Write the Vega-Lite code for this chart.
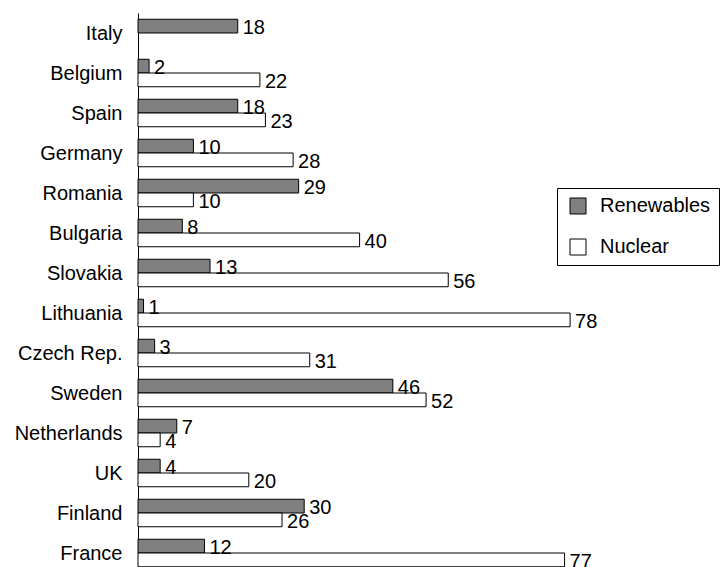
{
  "$schema": "https://vega.github.io/schema/vega-lite/v6.json",
  "autosize": {"type": "none"},
  "padding": {"left": 138, "top": 13, "right": 31, "bottom": 0},
  "width": 554,
  "height": 554,
  "background": "white",
  "config": {
    "view": {"stroke": null},
    "font": "Liberation Sans",
    "text": {"font": "Liberation Sans"}
  },
  "data": {
    "values": [
      {"country": "Italy", "source": "Renewables", "value": 18},
      {"country": "Belgium", "source": "Renewables", "value": 2},
      {"country": "Belgium", "source": "Nuclear", "value": 22},
      {"country": "Spain", "source": "Renewables", "value": 18},
      {"country": "Spain", "source": "Nuclear", "value": 23},
      {"country": "Germany", "source": "Renewables", "value": 10},
      {"country": "Germany", "source": "Nuclear", "value": 28},
      {"country": "Romania", "source": "Renewables", "value": 29},
      {"country": "Romania", "source": "Nuclear", "value": 10},
      {"country": "Bulgaria", "source": "Renewables", "value": 8},
      {"country": "Bulgaria", "source": "Nuclear", "value": 40},
      {"country": "Slovakia", "source": "Renewables", "value": 13},
      {"country": "Slovakia", "source": "Nuclear", "value": 56},
      {"country": "Lithuania", "source": "Renewables", "value": 1},
      {"country": "Lithuania", "source": "Nuclear", "value": 78},
      {"country": "Czech Rep.", "source": "Renewables", "value": 3},
      {"country": "Czech Rep.", "source": "Nuclear", "value": 31},
      {"country": "Sweden", "source": "Renewables", "value": 46},
      {"country": "Sweden", "source": "Nuclear", "value": 52},
      {"country": "Netherlands", "source": "Renewables", "value": 7},
      {"country": "Netherlands", "source": "Nuclear", "value": 4},
      {"country": "UK", "source": "Renewables", "value": 4},
      {"country": "UK", "source": "Nuclear", "value": 20},
      {"country": "Finland", "source": "Renewables", "value": 30},
      {"country": "Finland", "source": "Nuclear", "value": 26},
      {"country": "France", "source": "Renewables", "value": 12},
      {"country": "France", "source": "Nuclear", "value": 77}
    ]
  },
  "encoding": {
    "y": {
      "field": "country",
      "type": "nominal",
      "sort": null,
      "scale": {"range": [0, 560], "paddingInner": 0.3125, "paddingOuter": 0.15625},
      "axis": {
        "title": null,
        "ticks": false,
        "domainColor": "black",
        "domainWidth": 1,
        "labelPadding": 16,
        "labelFontSize": 20,
        "labelColor": "black",
        "labelFont": "Liberation Sans",
        "labelOffset": 1,
        "grid": false
      }
    },
    "yOffset": {
      "field": "source",
      "type": "nominal",
      "sort": ["Renewables", "Nuclear"],
      "scale": {"domain": ["Renewables", "Nuclear"], "paddingInner": 0, "paddingOuter": 0}
    },
    "x": {
      "field": "value",
      "type": "quantitative",
      "scale": {"domain": [0, 100], "nice": false},
      "axis": null
    }
  },
  "layer": [
    {
      "mark": {"type": "bar", "stroke": "black", "strokeWidth": 1},
      "encoding": {
        "fill": {
          "field": "source",
          "type": "nominal",
          "scale": {"domain": ["Renewables", "Nuclear"], "range": ["#808080", "#ffffff"]},
          "legend": {
            "title": null,
            "orient": "none",
            "legendX": 419,
            "legendY": 175,
            "strokeColor": "black",
            "fillColor": "white",
            "padding": 8,
            "symbolOffset": 3,
            "symbolType": "square",
            "symbolSize": 256,
            "symbolStrokeColor": "black",
            "symbolStrokeWidth": 1,
            "labelFontSize": 20,
            "labelFont": "Liberation Sans",
            "labelColor": "black",
            "labelOffset": 12,
            "labelExpr": "datum.label + '\u00a0'",
            "rowPadding": 21,
            "offset": 0
          }
        }
      }
    },
    {
      "mark": {"type": "text", "align": "left", "baseline": "middle", "dx": 5, "dy": 2, "fontSize": 20, "color": "black"},
      "encoding": {
        "text": {"field": "value", "type": "quantitative"}
      }
    }
  ]
}
